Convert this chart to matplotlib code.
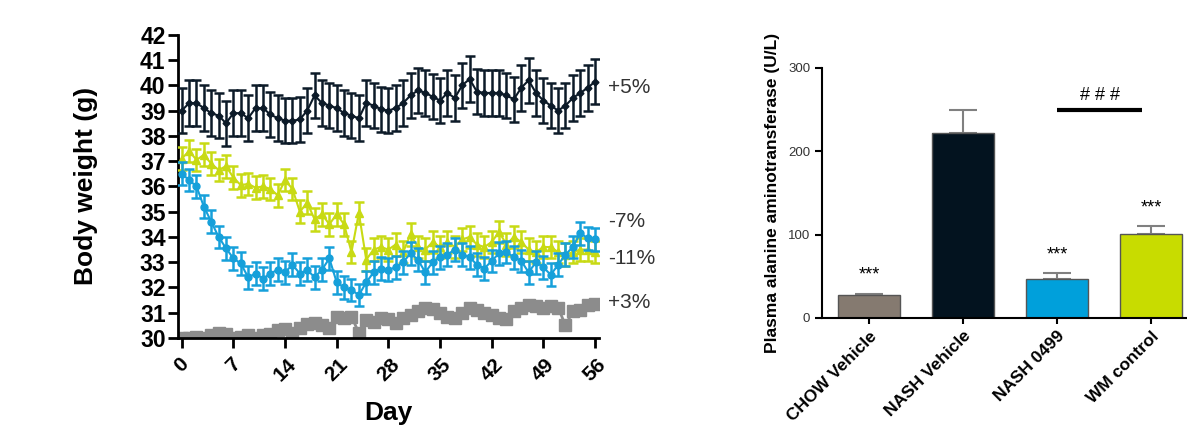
import matplotlib
matplotlib.use("Agg")
import matplotlib.pyplot as plt

plt.rcParams['font.family'] = ['Liberation Sans', 'DejaVu Sans']

# ---- body weight data (g), one value per day ----
days = list(range(57))

nash_vehicle = [39.0, 39.3, 39.3, 39.1, 38.9, 38.8, 38.5, 38.9, 38.9, 38.7,
                39.1, 39.1, 38.85, 38.7, 38.6, 38.6, 38.65, 39.0, 39.6, 39.3,
                39.2, 39.1, 38.9, 38.8, 38.7, 39.3, 39.2, 39.05, 39.0, 39.1,
                39.3, 39.6, 39.8, 39.7, 39.55, 39.4, 39.7, 39.5, 40.0, 40.25,
                39.75, 39.7, 39.7, 39.7, 39.6, 39.45, 39.9, 40.2, 39.7, 39.4,
                39.2, 39.0, 39.2, 39.5, 39.7, 39.9, 40.15]
wm_control = [37.1, 37.4, 37.05, 37.25, 36.9, 36.65, 36.8, 36.35, 36.05, 36.1,
              35.95, 36.0, 35.9, 35.65, 36.25, 35.9, 35.0, 35.35, 34.7, 34.9,
              34.5, 34.9, 34.5, 33.4, 34.95, 33.1, 33.5, 33.6, 33.5, 33.7,
              33.4, 34.1, 33.6, 33.5, 33.8, 33.6, 33.8, 33.6, 33.9, 34.0,
              33.7, 33.6, 33.8, 34.2, 33.7, 34.0, 33.8, 33.5, 33.4, 33.6,
              33.6, 33.4, 33.3, 33.4, 33.5, 33.5, 33.4]
nash_0499 = [36.5, 36.25, 36.0, 35.2, 34.6, 34.0, 33.55, 33.15, 32.95, 32.4,
             32.55, 32.35, 32.55, 32.7, 32.6, 32.9, 32.55, 32.7, 32.4, 32.7,
             33.15, 32.2, 32.0, 31.9, 31.7, 32.2, 32.6, 32.75, 32.7, 32.8,
             33.0, 33.35, 33.1, 32.6, 33.0, 33.2, 33.3, 33.5, 33.3, 33.2,
             32.9, 32.75, 33.05, 33.35, 33.4, 33.2, 33.05, 32.6, 33.0, 32.8,
             32.5, 32.9, 33.3, 33.6, 34.15, 33.95, 33.9]
chow_vehicle = [30.0, 30.0, 30.05, 30.0, 30.1, 30.2, 30.15, 30.0, 30.05, 30.1,
                30.0, 30.1, 30.15, 30.3, 30.35, 30.2, 30.4, 30.55, 30.6, 30.5,
                30.4, 30.85, 30.8, 30.85, 30.2, 30.7, 30.65, 30.8, 30.75, 30.6,
                30.8, 30.9, 31.05, 31.2, 31.15, 31.0, 30.85, 30.8, 31.0, 31.2,
                31.1, 31.0, 30.9, 30.8, 30.75, 31.05, 31.2, 31.3, 31.25, 31.2,
                31.25, 31.2, 30.5, 31.05, 31.1, 31.3, 31.35]

sem_nash_vehicle = 0.9
sem_wm_control = 0.45
sem_nash_0499 = 0.45

change_labels = ['+5%', '-7%', '-11%', '+3%']
change_y = [39.9, 34.63, 33.13, 31.39]

# ---- ALT data ----
groups = ['CHOW Vehicle', 'NASH Vehicle', 'NASH 0499', 'WM control']
alt_mean = [28, 222, 47, 101]
alt_sem = [1, 27, 7, 9]
alt_stars = ['***', '', '***', '***']

C_DARK = '#0c1a28'
C_GREEN = '#c8da14'
C_BLUE = '#16a0da'
C_GRAY = '#8c8c8c'
bar_colors = ['#857a70', '#03131f', '#00a0db', '#c8dc00']

fig = plt.figure(figsize=(11.87, 4.30), dpi=100)

# ---------------- left panel ----------------
ax = fig.add_axes([0.150, 0.214, 0.355, 0.705])

ax.plot(days, chow_vehicle, color=C_GRAY, marker='s', ms=9, lw=2, zorder=2)
ax.errorbar(days, wm_control, yerr=sem_wm_control, color=C_GREEN, marker='^',
            ms=5.5, lw=1.5, elinewidth=1.8, capsize=3.5, capthick=1.8, zorder=3)
ax.errorbar(days, nash_0499, yerr=sem_nash_0499, color=C_BLUE, marker='o',
            ms=5, lw=1.5, elinewidth=1.8, capsize=3.5, capthick=1.8, zorder=4)
ax.errorbar(days, nash_vehicle, yerr=sem_nash_vehicle, color=C_DARK, marker='D',
            ms=3.5, lw=1.5, elinewidth=1.8, capsize=3.5, capthick=1.8, zorder=5)

for lab, yv in zip(change_labels, change_y):
    ax.text(57.8, yv, lab, fontsize=15, color='#333333', ha='left', va='center',
            clip_on=False)

ax.set_xlim(-0.5, 56.6)
ax.set_ylim(30, 42)
ax.set_yticks(range(30, 43))
ax.set_xticks(range(0, 57, 7))
ax.set_xticklabels([str(d) for d in range(0, 57, 7)], rotation=45,
                   fontsize=15, fontweight='bold')
for t in ax.get_yticklabels():
    t.set_fontweight('bold')
    t.set_fontsize(16.5)
ax.tick_params(direction='out', length=7, width=2, pad=2)
ax.tick_params(axis='x', pad=5)
ax.spines['top'].set_visible(False)
ax.spines['right'].set_visible(False)
ax.spines['left'].set_linewidth(2)
ax.spines['bottom'].set_linewidth(2)
ax.set_ylabel('Body weight (g)', fontsize=19, fontweight='bold', labelpad=30)
ax.set_xlabel('Day', fontsize=19, fontweight='bold', labelpad=12)

# ---------------- right panel ----------------
bx = fig.add_axes([0.6925, 0.2605, 0.3075, 0.5814])
xpos = list(range(len(groups)))
bx.bar(xpos, alt_mean, width=0.66, color=bar_colors, edgecolor='#555555',
       linewidth=1, zorder=2)
bx.errorbar(xpos, alt_mean, yerr=[[0] * len(alt_sem), alt_sem], fmt='none',
            ecolor='#808080', elinewidth=1.5, capsize=10, capthick=1.5, zorder=1)
for x, m, s, st in zip(xpos, alt_mean, alt_sem, alt_stars):
    if st:
        bx.text(x, m + s + 12, st, ha='center', va='bottom', fontsize=13)

bx.plot([2.0, 2.9], [250, 250], color='black', lw=3, solid_capstyle='butt')
bx.text(2.45, 257, '# # #', ha='center', va='bottom', fontsize=13)

bx.set_xlim(-0.5, 3.38)
bx.set_ylim(0, 300)
bx.set_yticks([0, 100, 200, 300])
bx.set_xticks(xpos)
bx.set_xticklabels(groups, rotation=45, ha='right', rotation_mode='anchor',
                   fontsize=12.5, fontweight='bold')
bx.tick_params(axis='y', labelsize=9.5, labelcolor='#333333', length=5, width=1.5)
bx.tick_params(axis='x', length=4, width=1.5)
bx.spines['top'].set_visible(False)
bx.spines['right'].set_visible(False)
bx.spines['left'].set_linewidth(1.5)
bx.spines['bottom'].set_linewidth(1.5)
bx.set_ylabel('Plasma alanine aminotransferase (U/L)', fontsize=12.5,
              fontweight='bold', labelpad=6)

fig.savefig('out.png', dpi=100)
